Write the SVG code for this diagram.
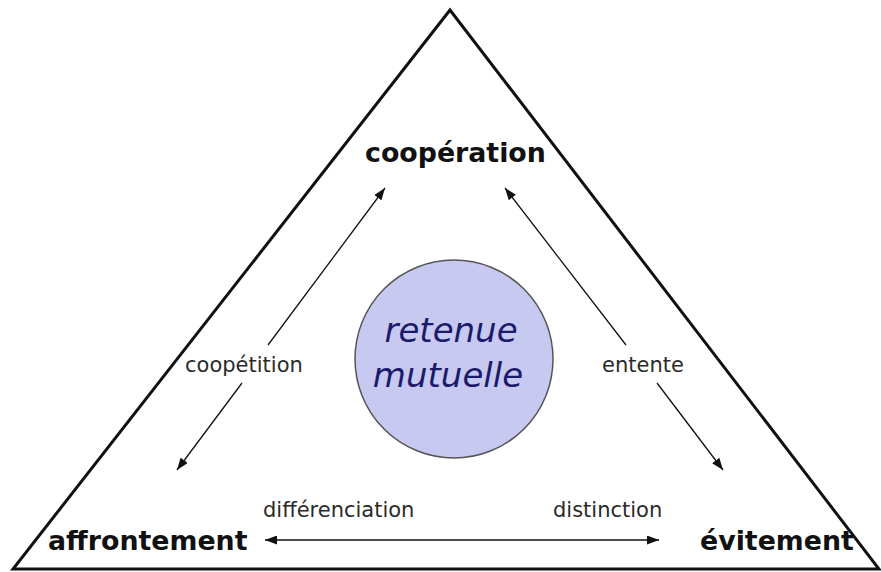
<svg xmlns="http://www.w3.org/2000/svg" width="881" height="572" viewBox="0 0 881 572">
  <defs>
    <marker id="arr" viewBox="0 0 12 9" markerWidth="12" markerHeight="9" refX="12" refY="4.5" orient="auto-start-reverse" markerUnits="userSpaceOnUse">
      <path d="M0,0 L12,4.5 L0,9 z" fill="#111"/>
    </marker>
    <style>
      .edge { fill: none; stroke: #111; stroke-width: 1.3; marker-end: url(#arr); }
      .lbl { font-family: "DejaVu Sans", Verdana, sans-serif; font-size: 21px; fill: #2a2a2a; }
      .big { font-family: "DejaVu Sans", Verdana, sans-serif; font-weight: bold; font-size: 26.8px; fill: #111; }
      .mid { font-family: "DejaVu Sans", Verdana, sans-serif; font-style: italic; font-size: 34px; fill: #1b1b6b; text-anchor: middle; }
    </style>
  </defs>
  <rect width="881" height="572" fill="#ffffff"/>
  <g id="triangle">
    <polygon points="450,10 13,569 879,569" fill="none" stroke="#111" stroke-width="3" stroke-linejoin="miter"/>
  </g>
  <g id="connectors">
    <path class="edge" d="M268,345 L385,188"/>
    <path class="edge" d="M242,383 L177,470"/>
    <path class="edge" d="M626,345 L505,188"/>
    <path class="edge" d="M657,383 L723,470"/>
    <path class="edge" d="M265,540 L659,540" marker-start="url(#arr)"/>
  </g>
  <g id="node-cooperation">
    <text class="big" x="365" y="162">coopération</text>
  </g>
  <g id="node-affrontement">
    <text class="big" x="48" y="550">affrontement</text>
  </g>
  <g id="node-evitement">
    <text class="big" x="700" y="550">évitement</text>
  </g>
  <g id="node-retenue">
    <circle cx="454" cy="359" r="99" fill="#c8c9f1" stroke="#555" stroke-width="1.5"/>
    <text class="mid" x="451" y="342">retenue</text>
    <text class="mid" x="448" y="387">mutuelle</text>
  </g>
  <g id="labels">
    <text class="lbl" x="185" y="372">coopétition</text>
    <text class="lbl" x="602" y="372">entente</text>
    <text class="lbl" x="263" y="517">différenciation</text>
    <text class="lbl" x="553" y="517">distinction</text>
  </g>
</svg>
